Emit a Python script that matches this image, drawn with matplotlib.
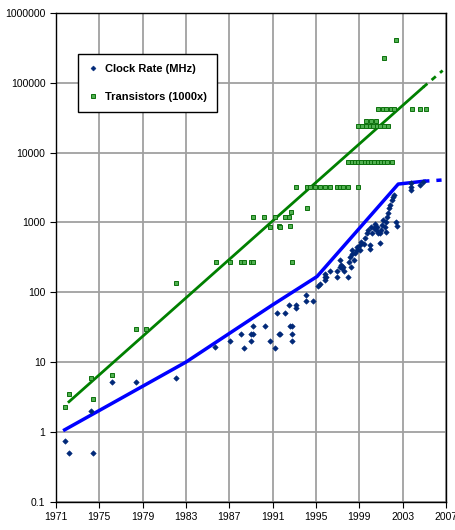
import matplotlib.pyplot as plt
import matplotlib.ticker as mticker
import numpy as np

plt.rcParams['font.family'] = ['Liberation Sans', 'DejaVu Sans']

# clock rate points (year, MHz)
clock_years = [1971.8, 1972.2, 1974.4, 1974.2, 1976.2, 1978.4, 1982.05, 1985.7,
               1987.1, 1988.1, 1988.4, 1989.0, 1989.0, 1989.2, 1989.2, 1990.3,
               1990.8, 1991.2, 1991.6, 1991.7, 1991.4, 1992.1, 1992.5, 1993.2,
               1993.2, 1992.6, 1992.8, 1992.8, 1992.8, 1994.1, 1994.1, 1994.75,
               1995.2, 1995.4, 1995.8, 1995.8, 1995.9, 1995.8, 1996.3, 1996.9,
               1996.9, 1997.2, 1997.3, 1997.5, 1997.6, 1998.0, 1998.2,
               1997.2, 1997.3, 1997.4, 1998.05, 1998.15, 1998.3, 1998.3, 1998.5,
               1998.6, 1998.75, 1998.8, 1999.07, 1999.07, 1999.2, 1999.4, 1999.5,
               1999.7, 1999.85, 2000.0, 2000.0, 2000.1, 2000.2, 2000.35, 2000.45,
               2000.55, 2000.65, 2000.7, 2000.9, 2000.9, 2001.05, 2001.1, 2001.2,
               2001.35, 2001.45, 2001.5, 2001.55, 2001.65, 2001.75, 2001.85,
               2002.05, 2002.1, 2002.25, 2002.4, 2002.45, 2003.8, 2003.8, 2003.8,
               2004.6, 2004.9]
clock_mhz = [0.75, 0.5, 0.5, 2.0, 5.1, 5.1, 5.9, 16.3,
             20, 25, 16, 20, 25, 25, 33, 33,
             20, 16, 25, 25, 50, 50, 66, 66,
             60, 33, 33, 25, 20, 90, 75, 75,
             125, 133, 150, 166, 166, 180, 200, 166,
             200, 233, 233, 233, 200, 166, 233,
             290, 245, 225, 270, 316, 355, 406, 290,
             364, 406, 448, 406, 480, 530, 493, 590,
             705, 780, 480, 416, 870, 705, 830, 960,
             780, 870, 705, 500, 705, 780, 920, 1090,
             870, 740, 1020, 1200, 1350, 1600, 1780,
             2100, 2350, 2500, 1025, 900, 3650, 3250, 2950,
             3450, 3750]

# transistor points (year, thousands)
trans_years = [1971.8, 1972.2, 1974.2, 1974.4, 1976.2, 1978.4, 1979.3, 1982.05,
               1985.75, 1987.07, 1988.1, 1988.4, 1989.0, 1989.2, 1992.8,
               1989.2, 1990.2, 1990.8, 1991.2, 1991.6, 1991.7, 1992.1, 1992.5,
               1992.7, 1992.6, 1994.15,
               1993.16, 1994.15, 1994.45, 1994.9, 1995.4, 1995.84, 1996.3,
               1996.9, 1997.2, 1997.5, 1998.0, 1998.9,
               1998.0, 1998.3, 1998.6, 1998.9, 1999.2, 1999.5, 1999.8, 2000.1,
               2000.4, 2000.7, 2001.0, 2001.3, 2001.6, 2002.0,
               1998.9, 1999.25, 1999.6, 1999.95, 2000.3, 2000.6, 2000.95, 2001.3,
               2001.7,
               1999.65, 2000.1, 2000.55,
               2000.75, 2001.15, 2001.5, 2001.9, 2002.25, 2003.9, 2004.65, 2005.15,
               2001.3, 2002.4]
trans_k = [2.3, 3.5, 6.0, 3.0, 6.6, 29.5, 29.5, 138,
           275, 275, 275, 275, 275, 275, 275,
           1200, 1200, 870, 1200, 890, 850, 1200, 1200,
           1400, 890, 1600,
           3200, 3200, 3200, 3200, 3200, 3200, 3200,
           3200, 3200, 3200, 3200, 3200,
           7400, 7400, 7400, 7400, 7400, 7400, 7400, 7400,
           7400, 7400, 7400, 7400, 7400, 7400,
           24000, 24000, 24000, 24000, 24000, 24000, 24000, 24000,
           24000,
           28000, 28000, 28000,
           42500, 42500, 42500, 42500, 42500, 42500, 42500, 42500,
           225000, 415000]

# trend lines
clock_trend_years = [1971.8, 1983, 1991, 1995.1, 2002.6, 2005.0]
clock_trend_vals = [1.07, 10, 66, 168, 3550, 3900]
clock_proj_years = [2005.0, 2006.8]
clock_proj_vals = [3900, 4070]
trans_trend_years = [1972.2, 2004.9]
trans_trend_vals = [2.7, 86500]
trans_proj_years = [2004.9, 2006.7]
trans_proj_vals = [86500, 150000]

fig = plt.figure(figsize=(4.55, 5.3), dpi=100)
ax = fig.add_axes([0.123, 0.0534, 0.857, 0.922])

ax.plot(trans_trend_years, trans_trend_vals, color='#008000', lw=2.0, zorder=3)
ax.plot(trans_proj_years, trans_proj_vals, color='#008000', lw=2.0,
        linestyle=(0, (2, 2)), zorder=3)
ax.plot(clock_trend_years, clock_trend_vals, color='#0000ff', lw=2.5, zorder=3)
ax.plot(clock_proj_years, clock_proj_vals, color='#0000ff', lw=2.5,
        linestyle=(0, (1.5, 2)), zorder=3)

ax.plot(clock_years, clock_mhz, linestyle='none', marker='D', ms=2.8,
        color='#002878', markeredgewidth=0.4, label='Clock Rate (MHz)', zorder=4)
ax.plot(trans_years, trans_k, linestyle='none', marker='s', ms=3.0,
        markerfacecolor='#50b050', markeredgecolor='#0c700c',
        markeredgewidth=0.7, label='Transistors (1000x)', zorder=4)

ax.set_yscale('log')
ax.set_ylim(0.1, 1e6)
ax.set_xlim(1971, 2007)
ax.set_xticks(range(1971, 2008, 4))
ax.set_yticks([0.1, 1, 10, 100, 1000, 10000, 100000, 1000000])
ax.yaxis.set_major_formatter(mticker.FuncFormatter(lambda v, p: f'{v:g}' if v < 1 else f'{int(round(v))}'))
ax.yaxis.set_minor_locator(mticker.NullLocator())
ax.tick_params(labelsize=7.5, direction='out', length=4, width=0.8)

ax.grid(True, color='#a0a0a0', lw=1.3)
ax.set_axisbelow(True)
for s in ax.spines.values():
    s.set_color('black')
    s.set_linewidth(1.0)

leg = ax.legend(loc='upper left', bbox_to_anchor=(0.057, 0.916), borderaxespad=0,
                fancybox=False, edgecolor='black', framealpha=1,
                prop={'weight': 'bold', 'size': 8}, labelspacing=1.6,
                handlelength=0.8, handletextpad=0.7, borderpad=0.9, markerscale=0.9)
leg.get_frame().set_linewidth(1.0)

plt.savefig('out.png', dpi=100)
